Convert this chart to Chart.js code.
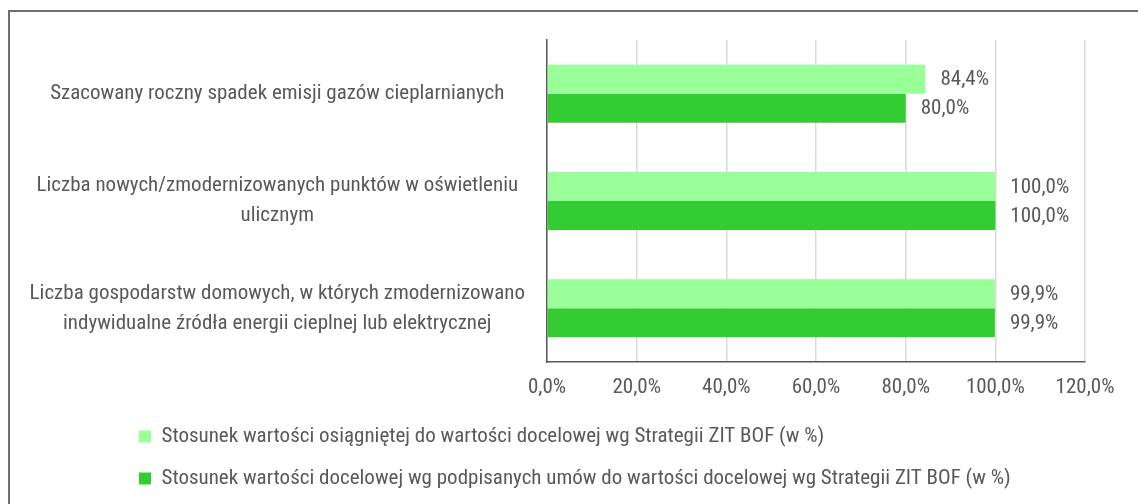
<!DOCTYPE html>
<html>
<head>
<meta charset="utf-8">
<script src="https://cdn.jsdelivr.net/npm/chart.js@4"></script>
<style>
  html, body { margin: 0; padding: 0; background: #fff; }
  body { width: 1138px; height: 504px; overflow: hidden; position: relative; }
  #frame { position: absolute; left: 8px; top: 10px; width: 1200px; height: 600px; border: 2px solid #6e6e6e; box-sizing: border-box; }
  #chart { position: absolute; left: 0; top: 0; }
</style>
</head>
<body>
<div id="frame"></div>
<canvas id="chart" width="1138" height="504"></canvas>
<script>
// dane z wykresu
var categories = [
    ['Szacowany roczny spadek emisji gazów cieplarnianych'],
    ['Liczba nowych/zmodernizowanych punktów w oświetleniu', 'ulicznym'],
    ['Liczba gospodarstw domowych, w których zmodernizowano', 'indywidualne źródła energii cieplnej lub elektrycznej']
];
var achievedValues = [84.4, 100.0, 99.9];
var contractedValues = [80.0, 100.0, 99.9];
var seriesNames = [
    'Stosunek wartości osiągniętej do wartości docelowej wg Strategii ZIT BOF (w %)',
    'Stosunek wartości docelowej wg podpisanych umów do wartości docelowej wg Strategii ZIT BOF (w %)'
];
var xMin = 0, xMax = 120, xStep = 20;

var textColor = '#595959';
var fontFamily = "'Liberation Sans Narrow', 'Roboto Condensed', 'DejaVu Sans Condensed', Roboto, sans-serif";
var fontSize = 21;

function formatPct(v) {
    return Number(v).toFixed(1).replace('.', ',') + '%';
}

// etykiety wartości przy końcach słupków
var valueLabels = {
    id: 'valueLabels',
    afterDatasetsDraw: function(chart) {
        var ctx = chart.ctx;
        ctx.save();
        ctx.font = fontSize + 'px ' + fontFamily;
        ctx.fillStyle = textColor;
        ctx.textAlign = 'left';
        ctx.textBaseline = 'middle';
        chart.data.datasets.forEach(function(ds, i) {
            chart.getDatasetMeta(i).data.forEach(function(bar, j) {
                ctx.fillText(formatPct(ds.data[j]), bar.x + 15, bar.y + 1);
            });
        });
        ctx.restore();
    }
};

// przesunięcie legendy w prawo
var legendShift = {
    id: 'legendShift',
    afterLayout: function(chart) {
        chart.legend.left += 118;
        chart.legend.right += 118;
    }
};

Chart.defaults.font.family = fontFamily;
Chart.defaults.font.size = fontSize;
Chart.defaults.color = textColor;

new Chart(document.getElementById('chart'), {
    type: 'bar',
    data: {
        labels: categories,
        datasets: [{
            label: seriesNames[0],
            data: achievedValues,
            backgroundColor: '#99ff99',
            borderWidth: 0
        }, {
            label: seriesNames[1],
            data: contractedValues,
            backgroundColor: '#33cc33',
            borderWidth: 0
        }]
    },
    options: {
        indexAxis: 'y',
        responsive: false,
        animation: false,
        layout: {
            padding: { top: 40, right: 53, bottom: 5, left: 0 }
        },
        datasets: {
            bar: { categoryPercentage: 0.54, barPercentage: 1.0 }
        },
        scales: {
            x: {
                min: xMin,
                max: xMax,
                ticks: {
                    stepSize: xStep,
                    padding: 13,
                    color: textColor,
                    callback: function(v) { return formatPct(v); }
                },
                grid: { color: '#d9d9d9', lineWidth: 1.5, drawTicks: false },
                border: { color: '#595959', width: 1.5 },
                afterFit: function(s) { s.height = 43; }
            },
            y: {
                ticks: {
                    crossAlign: 'center',
                    padding: 22,
                    color: textColor,
                    font: { size: fontSize, lineHeight: 1.43 }
                },
                grid: { display: false, drawTicks: false },
                border: { color: '#595959', width: 1.5 },
                afterFit: function(s) {
                    s.width = 547;
                    s.paddingTop = 0;
                    s.paddingBottom = 0;
                }
            }
        },
        plugins: {
            legend: {
                position: 'bottom',
                align: 'start',
                labels: {
                    boxWidth: 12,
                    boxHeight: 12,
                    padding: 21,
                    color: textColor
                }
            },
            tooltip: { enabled: false }
        }
    },
    plugins: [valueLabels, legendShift]
});
</script>
</body>
</html>
